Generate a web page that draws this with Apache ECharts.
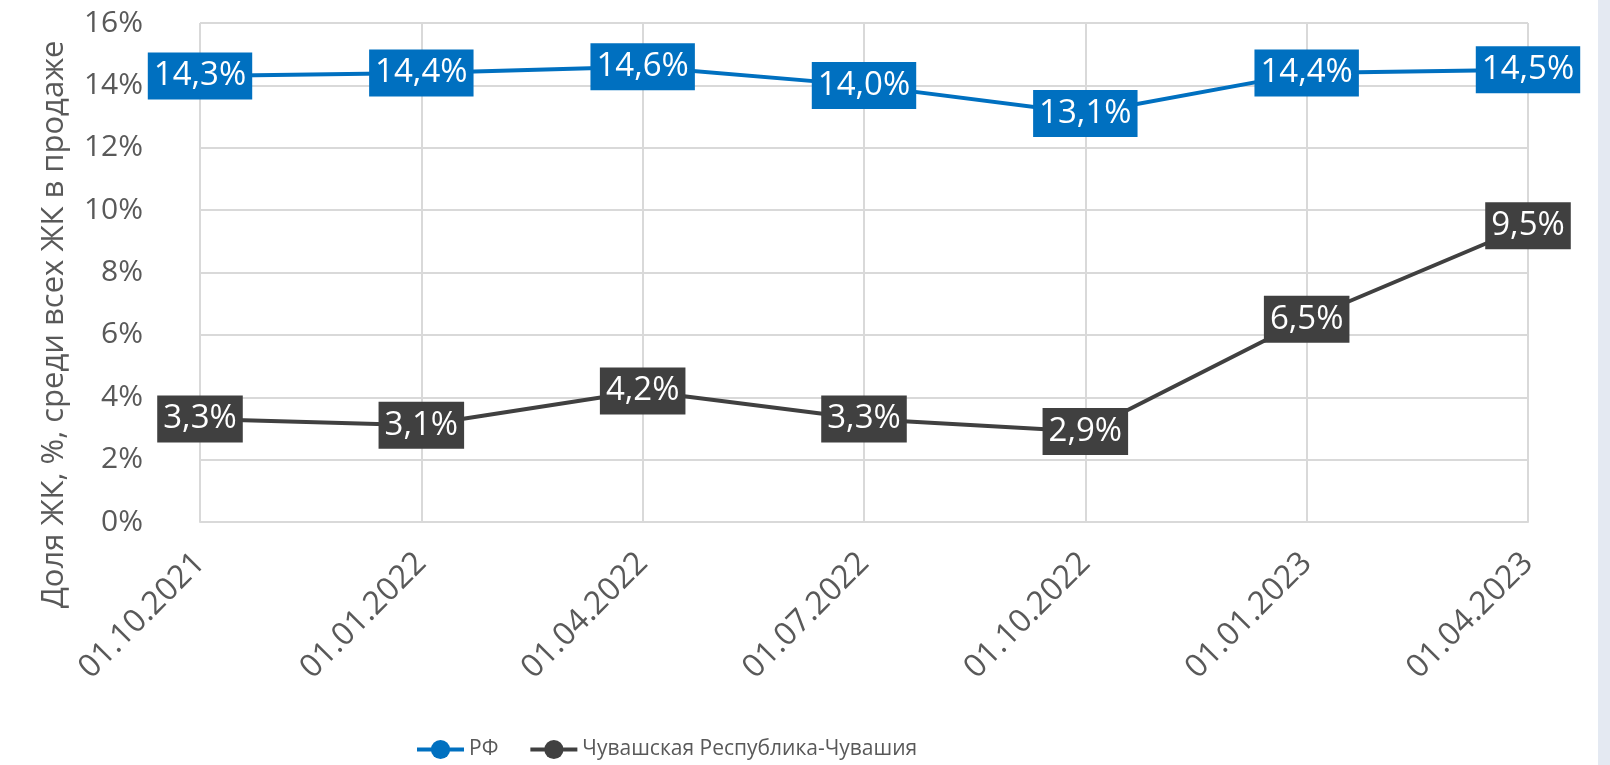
<!DOCTYPE html>
<html>
<head>
<meta charset="utf-8">
<script src="https://cdn.jsdelivr.net/npm/echarts@6/dist/echarts.min.js"></script>
<style>
  html, body { margin: 0; padding: 0; background: #fff; }
  #chart { width: 1610px; height: 765px; }
  .strip { position: absolute; top: 0; right: 0; width: 12px; height: 765px; background: #e4e9f2; }
</style>
</head>
<body>
<div id="chart"></div>
<div class="strip"></div>
<script>
// даты (категории)
var dates = ['01.10.2021', '01.01.2022', '01.04.2022', '01.07.2022', '01.10.2022', '01.01.2023', '01.04.2023']
// доля ЖК, %
var rfValues = [14.3, 14.4, 14.6, 14.0, 13.1, 14.4, 14.5]
var chuvValues = [3.3, 3.1, 4.2, 3.3, 2.9, 6.5, 9.5]
var seriesNames = ['РФ', 'Чувашская Республика-Чувашия']
var seriesColors = ['#0070c0', '#404040']

var font = 'Open Sans'
var gray = '#595959'

function fmt(v) {
  return v.toFixed(1).replace('.', ',') + '%'
}

function makeSeries(name, data, color) {
  return {
    name: name,
    type: 'line',
    data: data,
    symbol: 'circle',
    symbolSize: 16,
    itemStyle: { color: color },
    lineStyle: { color: color, width: 4 },
    label: {
      show: true,
      position: 'inside',
      formatter: function (p) { return fmt(p.value) },
      color: '#fff',
      backgroundColor: color,
      fontFamily: font,
      fontSize: 33,
      lineHeight: 37,
      padding: [5, 6, 5, 6]
    },
    animation: false
  }
}

var chart = echarts.init(document.getElementById('chart'))
chart.setOption({
  grid: {
    left: 200,
    right: 82,
    top: 23,
    bottom: 243
  },
  legend: {
    left: 410,
    top: 734,
    itemWidth: 47,
    itemHeight: 24,
    itemGap: 30,
    lineStyle: { width: 4 },
    textStyle: { color: gray, fontFamily: font, fontSize: 21 },
    data: seriesNames
  },
  xAxis: {
    type: 'category',
    data: dates,
    boundaryGap: false,
    axisLine: { lineStyle: { color: '#d9d9d9', width: 2 } },
    axisTick: { show: false },
    splitLine: { show: true, lineStyle: { color: '#d9d9d9', width: 2 } },
    axisLabel: {
      rotate: 45,
      margin: 36,
      color: gray,
      fontFamily: font,
      fontSize: 32
    }
  },
  yAxis: {
    type: 'value',
    min: 0,
    max: 16,
    interval: 2,
    axisLine: { show: false },
    axisTick: { show: false },
    splitLine: { lineStyle: { color: '#d9d9d9', width: 2 } },
    axisLabel: {
      margin: 57,
      color: gray,
      fontFamily: font,
      fontSize: 30,
      formatter: '{value}%'
    },
    name: 'Доля ЖК, %, среди всех ЖК в продаже',
    nameLocation: 'middle',
    nameGap: 130,
    nameTextStyle: {
      color: gray,
      fontFamily: font,
      fontSize: 31,
      padding: [0, 104, 0, 0]
    }
  },
  series: [
    makeSeries(seriesNames[0], rfValues, seriesColors[0]),
    makeSeries(seriesNames[1], chuvValues, seriesColors[1])
  ]
})
</script>
</body>
</html>
